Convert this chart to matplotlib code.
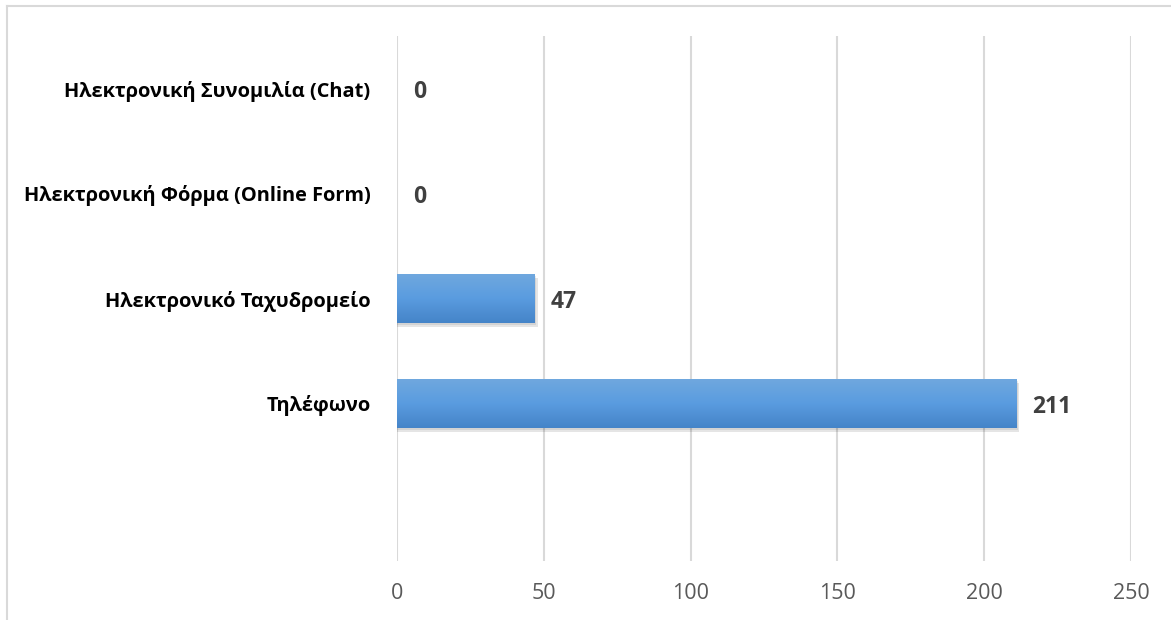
import matplotlib.pyplot as plt
import matplotlib.lines as mlines
import numpy as np
from matplotlib.colors import LinearSegmentedColormap

plt.rcParams['font.family'] = ['Open Sans', 'DejaVu Sans']

# data (top to bottom as shown; last slot is an empty category)
categories = ["Ηλεκτρονική Συνομιλία (Chat)",
              "Ηλεκτρονική Φόρμα (Online Form)",
              "Ηλεκτρονικό Ταχυδρομείο",
              "Τηλέφωνο",
              ""]
values = [0, 0, 47, 211, None]
x_ticks = [0, 50, 100, 150, 200, 250]

fig = plt.figure(figsize=(11.71, 6.2), dpi=100)
ax = fig.add_axes([397 / 1171, 1 - 561 / 620, (1131 - 397) / 1171, (561 - 36) / 620])

n = len(categories)
ypos = np.arange(n)
bar_h = 0.47
grad = LinearSegmentedColormap.from_list("g", ["#70a8de", "#5a9ce0", "#4584c8"])

for y, v in zip(ypos, values):
    if not v:
        continue
    # soft shadow, a couple of layers to fake blur
    for dx, dy, a in [(0.9, 0.04, 0.10), (0.5, 0.02, 0.08)]:
        ax.add_patch(plt.Rectangle((0, y - bar_h / 2 + dy), v + dx, bar_h,
                                   facecolor="#000000", alpha=a,
                                   edgecolor="none", zorder=2))
    bars = ax.barh([y], [v], height=bar_h, color="#5b9bd5", zorder=3)
    patch = bars.patches[0]
    img = ax.imshow(np.linspace(0, 1, 100).reshape(-1, 1), cmap=grad, aspect="auto",
                    extent=(0, v, y + bar_h / 2, y - bar_h / 2), zorder=4,
                    interpolation="bilinear")
    img.set_clip_path(patch)

for y, v in zip(ypos, values):
    if v is None:
        continue
    ax.annotate(str(v), xy=(v, y), xytext=(11.5, -2.5), textcoords="offset points",
                ha="left", va="center", fontsize=16.5, fontweight="bold",
                color="#404040", zorder=5)

ax.set_xlim(0, 250)
ax.set_ylim(n - 0.5, -0.5)
ax.set_xticks(x_ticks)
ax.set_yticks(ypos)
ax.set_yticklabels(categories, fontsize=14.4, fontweight="bold", color="#000000")
ax.tick_params(axis="y", length=0, pad=19)
ax.tick_params(axis="x", length=0, pad=16, labelsize=15.5, labelcolor="#595959")
ax.xaxis.grid(True, color="#d9d9d9", linewidth=1.5, zorder=0)
ax.set_axisbelow(True)
for s in ax.spines.values():
    s.set_visible(False)

# outer chart border (only top and left visible in the crop)
fig.add_artist(mlines.Line2D([7 / 1171, 1], [1 - 6 / 620, 1 - 6 / 620],
                             color="#d9d9d9", linewidth=1.5))
fig.add_artist(mlines.Line2D([7 / 1171, 7 / 1171], [0, 1 - 6 / 620],
                             color="#d9d9d9", linewidth=1.5))

fig.savefig("out.png", dpi=100)
